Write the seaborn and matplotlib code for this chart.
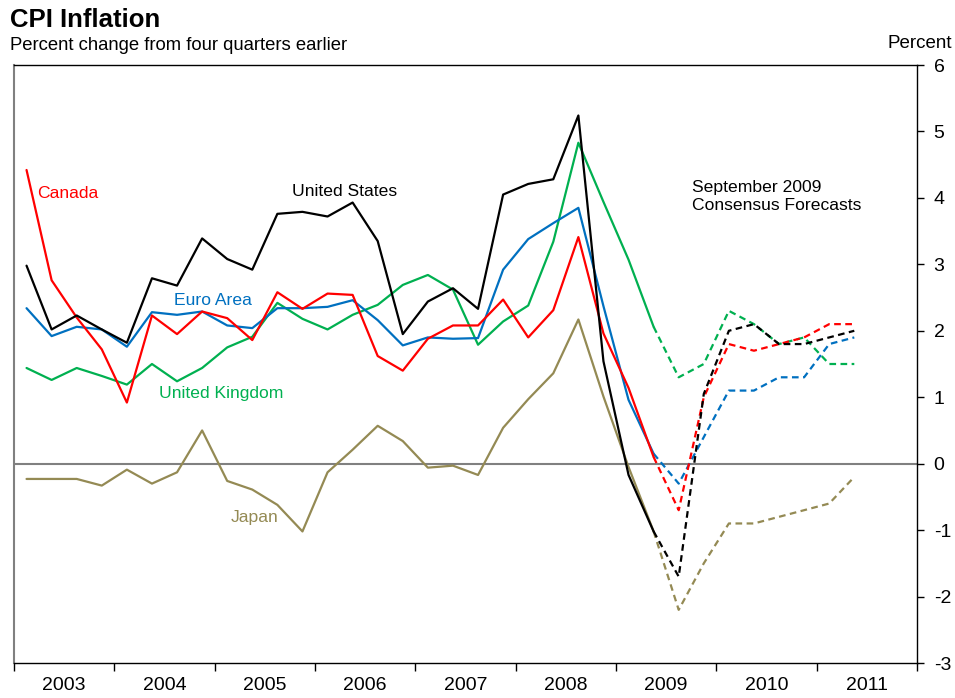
import numpy as np
import pandas as pd
import matplotlib
matplotlib.use("Agg")
import matplotlib.pyplot as plt
import seaborn as sns

# quarterly CPI, percent change from four quarters earlier
quarters = pd.period_range("2003Q1", "2011Q2", freq="Q")
n_actual = 26  # 2003Q1 .. 2009Q2, forecasts start from the last actual point

us_actual = [2.98, 2.02, 2.23, 2.02, 1.82, 2.79, 2.68, 3.39, 3.08, 2.92, 3.76, 3.79, 3.72,
             3.93, 3.35, 1.95, 2.44, 2.64, 2.33, 4.05, 4.21, 4.28, 5.24, 1.54, -0.17, -1.02]
us_forecast = [-1.02, -1.7, 1.05, 2.0, 2.1, 1.8, 1.8, 1.9, 2.0]

canada_actual = [4.42, 2.76, 2.2, 1.72, 0.92, 2.23, 1.95, 2.29, 2.19, 1.86, 2.58, 2.33, 2.56,
                 2.54, 1.62, 1.40, 1.88, 2.08, 2.08, 2.47, 1.90, 2.31, 3.41, 1.96, 1.14, 0.1]
canada_forecast = [0.1, -0.7, 1.0, 1.8, 1.7, 1.8, 1.9, 2.1, 2.1]

euro_actual = [2.34, 1.92, 2.06, 2.02, 1.76, 2.28, 2.24, 2.29, 2.08, 2.04, 2.34, 2.34, 2.36,
               2.46, 2.16, 1.78, 1.90, 1.88, 1.89, 2.92, 3.38, 3.62, 3.85, 2.37, 0.96, 0.15]
euro_forecast = [0.15, -0.3, 0.4, 1.1, 1.1, 1.3, 1.3, 1.8, 1.9]

uk_actual = [1.44, 1.26, 1.44, 1.32, 1.19, 1.50, 1.24, 1.44, 1.75, 1.91, 2.42, 2.18, 2.02,
             2.24, 2.39, 2.69, 2.84, 2.62, 1.79, 2.14, 2.38, 3.34, 4.83, 3.94, 3.07, 2.06]
uk_forecast = [2.06, 1.3, 1.5, 2.3, 2.1, 1.8, 1.9, 1.5, 1.5]

japan_actual = [-0.23, -0.23, -0.23, -0.33, -0.09, -0.30, -0.13, 0.50, -0.26, -0.39, -0.62,
                -1.02, -0.13, 0.21, 0.57, 0.34, -0.06, -0.03, -0.17, 0.54, 0.97, 1.36, 2.17,
                1.01, -0.05, -1.02]
japan_forecast = [-1.02, -2.2, -1.5, -0.9, -0.9, -0.8, -0.7, -0.6, -0.2]

years = list(range(2003, 2012))

series = [
    ("United Kingdom", uk_actual, uk_forecast, "#00B050"),
    ("Japan", japan_actual, japan_forecast, "#948A54"),
    ("Euro Area", euro_actual, euro_forecast, "#0070C0"),
    ("Canada", canada_actual, canada_forecast, "#FF0000"),
    ("United States", us_actual, us_forecast, "#000000"),
]

sns.set_style("white")
plt.rcParams["font.family"] = ["Liberation Sans", "DejaVu Sans"]
plt.rcParams["axes.unicode_minus"] = False
plt.rcParams["text.color"] = "black"
plt.rcParams["xtick.color"] = "black"
plt.rcParams["ytick.color"] = "black"

# quarter midpoints in fractional years
xq = np.asarray(quarters.year + (quarters.quarter - 0.5) / 4, dtype=float)

fig = plt.figure(figsize=(9.55, 6.98), dpi=100)
ax = fig.add_axes([14 / 955, 35 / 698, 903 / 955, 598 / 698])

ax.axhline(0, color="#808080", lw=1.5, zorder=1)

for name, act, fc, col in series:
    sns.lineplot(x=xq[:n_actual], y=act, ax=ax, color=col, lw=1.6)
    sns.lineplot(x=xq[n_actual - 1:n_actual - 1 + len(fc)], y=fc, ax=ax, color=col,
                 lw=1.6, linestyle=(0, (3, 2)))

ax.set_xlim(years[0], years[-1] + 1)
ax.set_ylim(-3, 6)

ax.set_xticks(years + [years[-1] + 1])
ax.set_xticklabels([])
ax.set_xticks([y + 0.5 for y in years], minor=True)
ax.set_xticklabels([str(y) for y in years], minor=True, fontsize=14)
ax.tick_params(axis="x", which="major", direction="out", length=6, width=1, color="black",
               bottom=True)
ax.tick_params(axis="x", which="minor", length=0, pad=10)

ax.yaxis.tick_right()
ax.set_yticks(range(-3, 7))
ax.tick_params(axis="y", direction="out", length=5, width=1, color="black",
               labelsize=14, pad=7, right=True, left=False)

for side in ["top", "right", "bottom"]:
    ax.spines[side].set_color("black")
    ax.spines[side].set_linewidth(1.0)
ax.spines["left"].set_color("#808080")
ax.spines["left"].set_linewidth(1.5)
ax.set_xlabel("")
ax.set_ylabel("")

# series labels
lab = 12.6
ax.text(2003.23, 4.06, "Canada", color="#FF0000", fontsize=lab, va="center")
ax.text(2005.77, 4.09, "United States", color="#000000", fontsize=lab, va="center")
ax.text(2004.59, 2.45, "Euro Area", color="#0070C0", fontsize=lab, va="center")
ax.text(2004.45, 1.05, "United Kingdom", color="#00B050", fontsize=lab, va="center")
ax.text(2005.16, -0.81, "Japan", color="#948A54", fontsize=lab, va="center")
ax.text(2009.76, 4.02, "September 2009\nConsensus Forecasts", color="black", fontsize=lab,
        va="center", linespacing=1.25)

fig.text(10 / 955, 1 - 20 / 698, "CPI Inflation", fontsize=18.5, fontweight="bold",
         va="center")
fig.text(10 / 955, 1 - 45 / 698, "Percent change from four quarters earlier", fontsize=13.3,
         va="center")
fig.text(952 / 955, 1 - 43 / 698, "Percent", fontsize=13.5, va="center", ha="right")

fig.savefig("out.png", dpi=100)
